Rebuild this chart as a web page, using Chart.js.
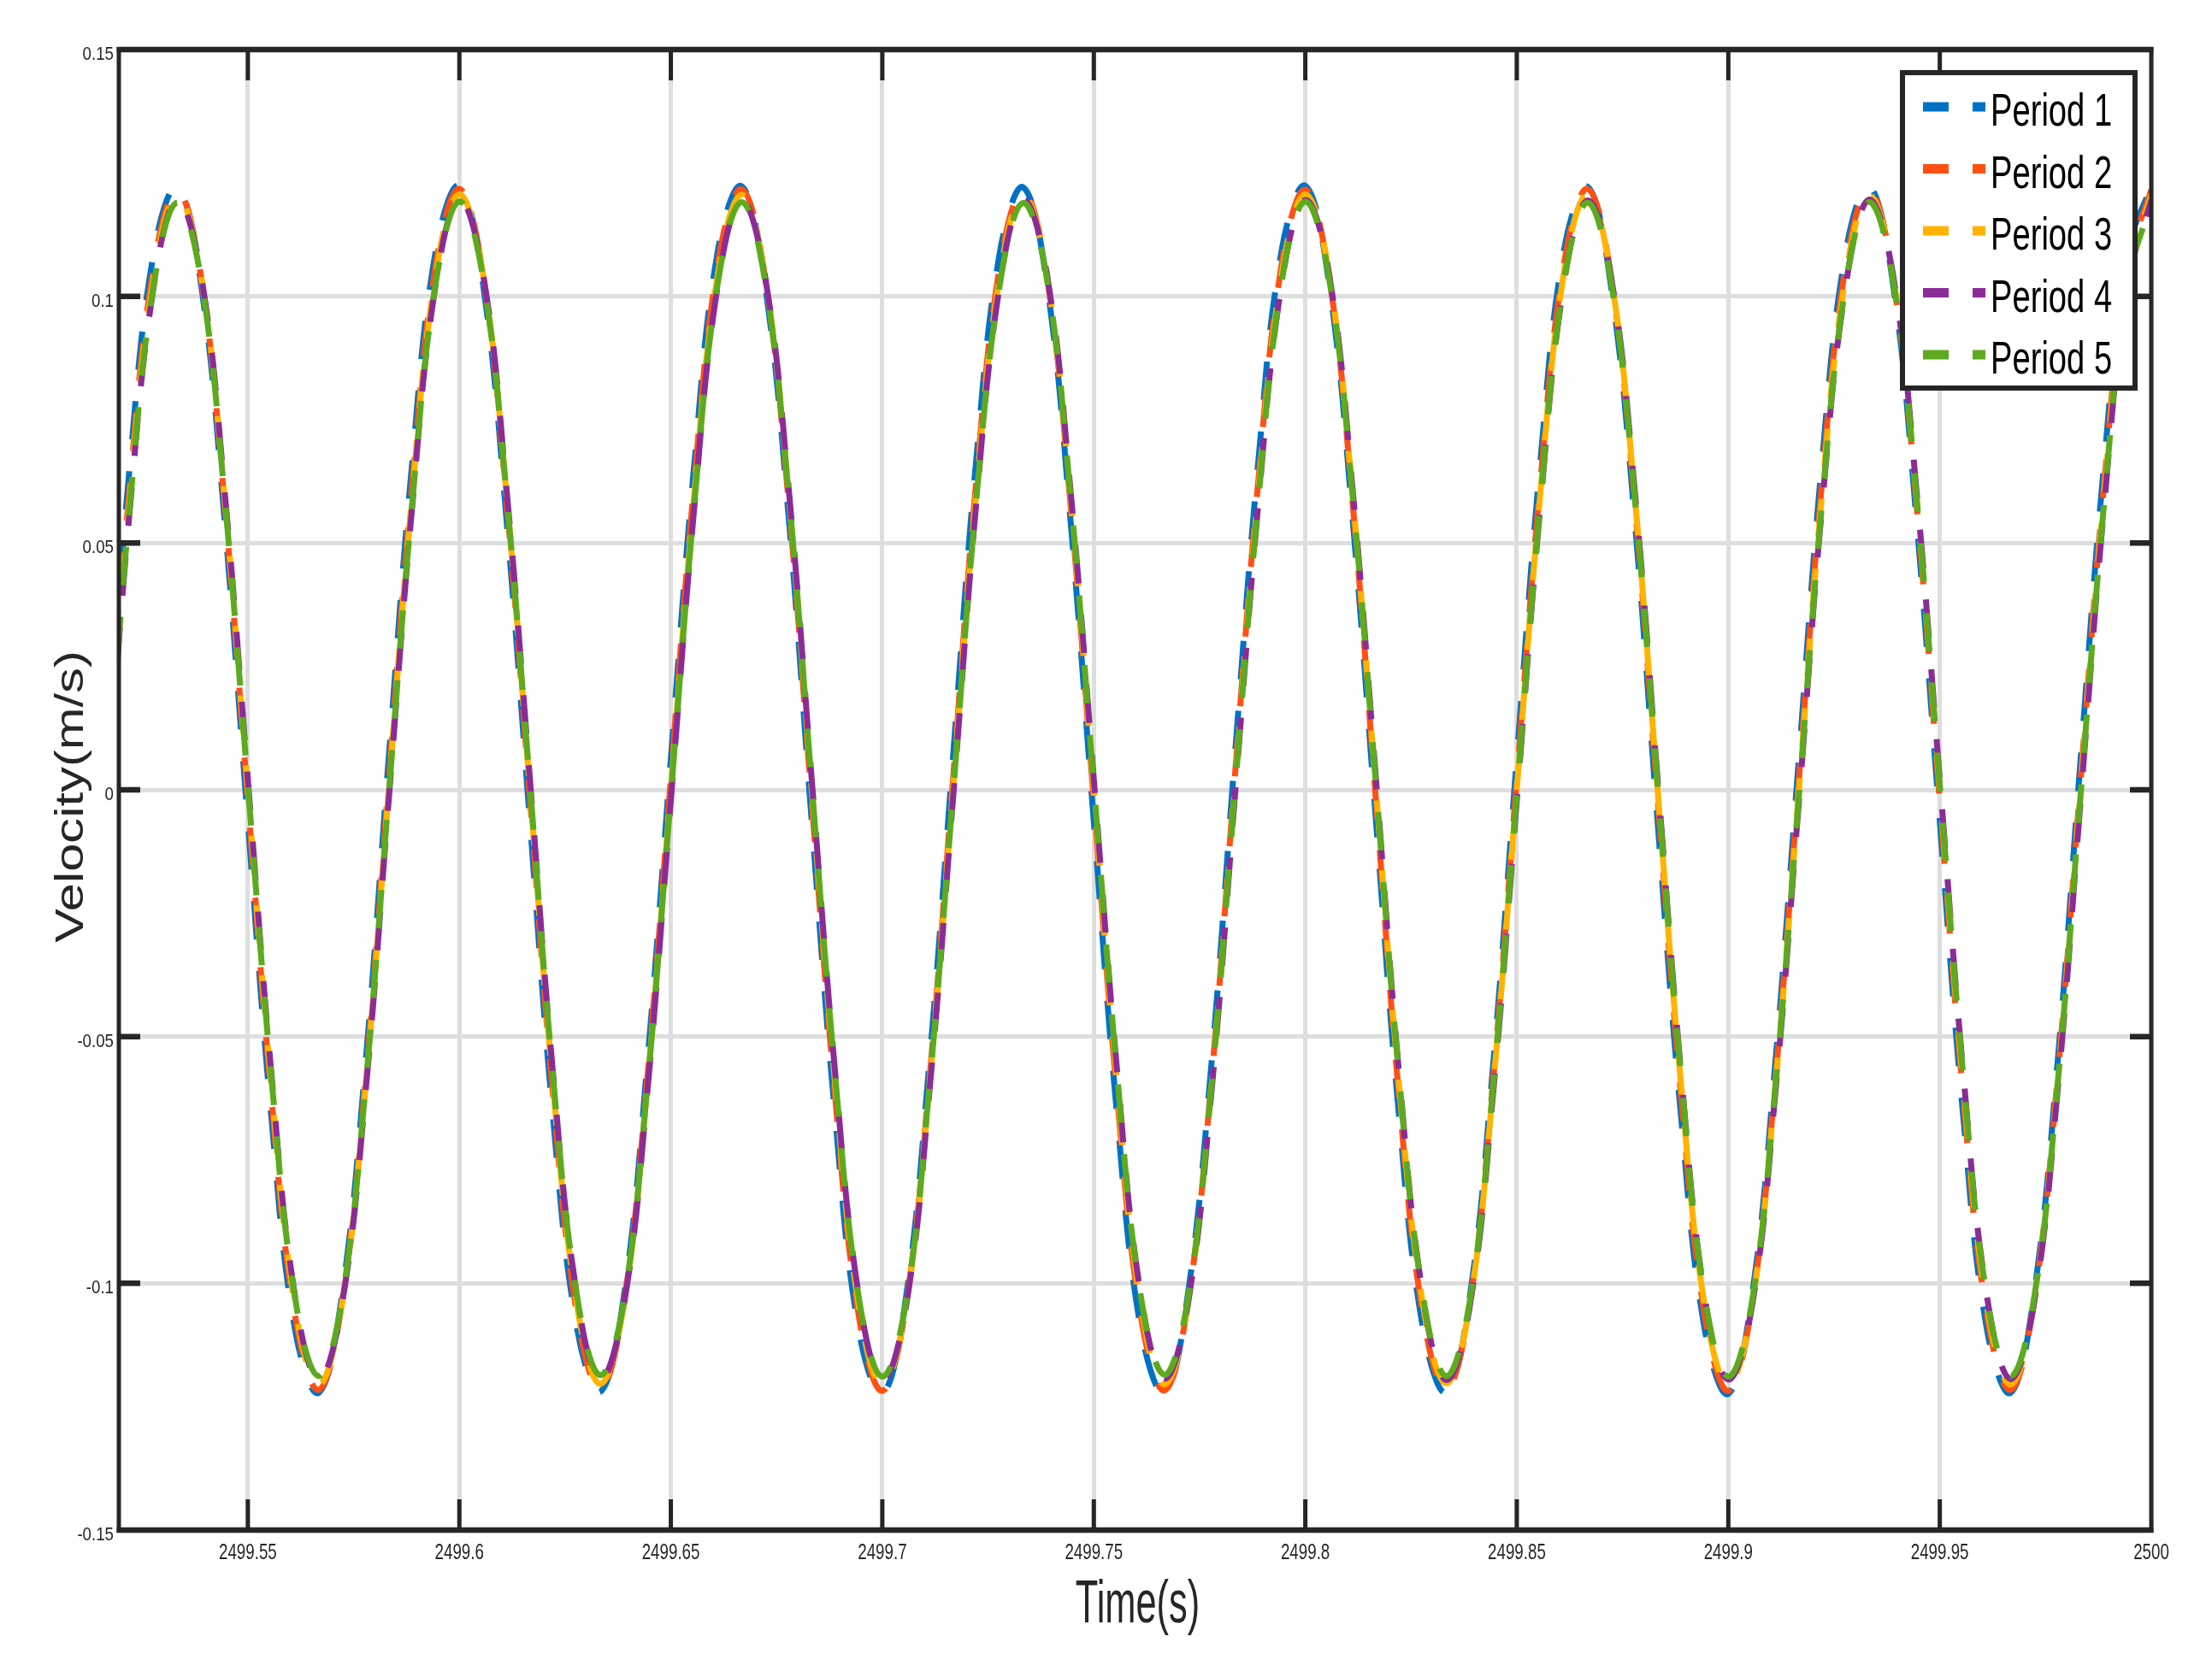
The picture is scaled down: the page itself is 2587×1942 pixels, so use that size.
<!DOCTYPE html>
<html lang="en">
<head>
<meta charset="utf-8">
<title>Velocity</title>
<script src="https://cdn.jsdelivr.net/npm/chart.js@4.4.1/dist/chart.umd.min.js"></script>
<style>
  html, body { margin: 0; padding: 0; background: #fff; }
  #caja { width: 2587px; height: 1942px; }
</style>
</head>
<body>
<div id="caja"><canvas id="grafico" width="2587" height="1942"></canvas></div>
<script>
// datos (tiempo en s, velocidad en m/s)
const tiempo = [
  2499.5167, 2499.5222, 2499.5278,
  2499.5333, 2499.5389, 2499.5444, 2499.55, 2499.5556, 2499.5611, 2499.5667, 2499.5722, 2499.5778, 2499.5833, 2499.5889, 2499.5944,
  2499.6, 2499.6056, 2499.6111, 2499.6167, 2499.6222, 2499.6278, 2499.6333, 2499.6389, 2499.6444, 2499.65, 2499.6556, 2499.6611,
  2499.6667, 2499.6722, 2499.6778, 2499.6833, 2499.6889, 2499.6944, 2499.7, 2499.7056, 2499.7111, 2499.7167, 2499.7222, 2499.7278,
  2499.7333, 2499.7389, 2499.7444, 2499.75, 2499.7556, 2499.7611, 2499.7667, 2499.7722, 2499.7778, 2499.7833, 2499.7889, 2499.7944,
  2499.8, 2499.8056, 2499.8111, 2499.8167, 2499.8222, 2499.8278, 2499.8333, 2499.8389, 2499.8444, 2499.85, 2499.8556, 2499.8611,
  2499.8667, 2499.8722, 2499.8778, 2499.8833, 2499.8889, 2499.8944, 2499.9, 2499.9056, 2499.9111, 2499.9167, 2499.9222, 2499.9278,
  2499.9333, 2499.9389, 2499.9444, 2499.95, 2499.9556, 2499.9611, 2499.9667, 2499.9722, 2499.9778, 2499.9833, 2499.9889, 2499.9944,
  2500
];

const periodo1 = [
  0.0064, 0.0667, 0.1091,
  0.1222, 0.1027, 0.0556, -0.0064, -0.0667, -0.1091, -0.1222, -0.1027, -0.0556, 0.0064, 0.0667, 0.1091,
  0.1224, 0.1025, 0.0553, -0.0066, -0.0668, -0.1090, -0.1220, -0.1026, -0.0557, 0.0062, 0.0665, 0.1092,
  0.1223, 0.1028, 0.0558, -0.0063, -0.0666, -0.1093, -0.1224, -0.1028, -0.0555, 0.0065, 0.0668, 0.1090,
  0.1221, 0.1026, 0.0555, -0.0065, -0.0669, -0.1092, -0.1223, -0.1025, -0.0556, 0.0063, 0.0666, 0.1093,
  0.1224, 0.1027, 0.0557, -0.0062, -0.0665, -0.1090, -0.1221, -0.1027, -0.0558, 0.0064, 0.0667, 0.1091,
  0.1222, 0.1025, 0.0554, -0.0066, -0.0668, -0.1092, -0.1224, -0.1026, -0.0555, 0.0065, 0.0669, 0.1092,
  0.1223, 0.1028, 0.0556, -0.0064, -0.0667, -0.1091, -0.1222, -0.1027, -0.0557, 0.0063, 0.0666, 0.1090,
  0.1224
];

const periodo2 = [
  0.0021, 0.0626, 0.1063,
  0.1215, 0.1041, 0.0589, -0.0021, -0.0626, -0.1063, -0.1216, -0.1041, -0.0589, 0.0021, 0.0626, 0.1063,
  0.1218, 0.1043, 0.0590, -0.0020, -0.0624, -0.1062, -0.1214, -0.1040, -0.0588, 0.0023, 0.0628, 0.1065,
  0.1217, 0.1042, 0.0588, -0.0022, -0.0627, -0.1064, -0.1218, -0.1043, -0.0590, 0.0020, 0.0625, 0.1062,
  0.1214, 0.1040, 0.0587, -0.0023, -0.0628, -0.1065, -0.1217, -0.1042, -0.0589, 0.0022, 0.0627, 0.1064,
  0.1216, 0.1041, 0.0590, -0.0021, -0.0625, -0.1063, -0.1215, -0.1041, -0.0588, 0.0021, 0.0626, 0.1063,
  0.1218, 0.1043, 0.0589, -0.0020, -0.0626, -0.1064, -0.1218, -0.1042, -0.0590, 0.0022, 0.0628, 0.1065,
  0.1215, 0.1040, 0.0588, -0.0022, -0.0627, -0.1062, -0.1216, -0.1040, -0.0587, 0.0020, 0.0625, 0.1062,
  0.1216
];

const periodo3 = [
  0.0000, 0.0603, 0.1044,
  0.1205, 0.1044, 0.0603, 0.0000, -0.0603, -0.1044, -0.1206, -0.1044, -0.0603, 0.0000, 0.0603, 0.1044,
  0.1207, 0.1045, 0.0602, -0.0001, -0.0604, -0.1043, -0.1204, -0.1043, -0.0602, 0.0001, 0.0604, 0.1045,
  0.1206, 0.1043, 0.0604, 0.0001, -0.0602, -0.1045, -0.1207, -0.1045, -0.0604, -0.0001, 0.0602, 0.1043,
  0.1204, 0.1044, 0.0603, 0.0000, -0.0603, -0.1044, -0.1205, -0.1044, -0.0603, 0.0000, 0.0603, 0.1044,
  0.1207, 0.1046, 0.0604, 0.0001, -0.0602, -0.1043, -0.1203, -0.1042, -0.0601, 0.0002, 0.0605, 0.1046,
  0.1206, 0.1044, 0.0602, -0.0001, -0.0604, -0.1045, -0.1206, -0.1044, -0.0603, 0.0000, 0.0603, 0.1044,
  0.1205, 0.1043, 0.0603, 0.0000, -0.0603, -0.1044, -0.1205, -0.1043, -0.0602, 0.0001, 0.0604, 0.1045,
  0.1206
];

const periodo4 = [
  -0.0021, 0.0579, 0.1024,
  0.1195, 0.1045, 0.0615, 0.0021, -0.0579, -0.1024, -0.1195, -0.1045, -0.0615, -0.0021, 0.0579, 0.1024,
  0.1196, 0.1046, 0.0614, 0.0020, -0.0580, -0.1025, -0.1194, -0.1044, -0.0616, -0.0022, 0.0578, 0.1023,
  0.1194, 0.1044, 0.0616, 0.0022, -0.0578, -0.1023, -0.1196, -0.1046, -0.0614, -0.0020, 0.0580, 0.1025,
  0.1196, 0.1045, 0.0615, 0.0021, -0.0579, -0.1024, -0.1193, -0.1043, -0.0613, -0.0019, 0.0581, 0.1026,
  0.1195, 0.1046, 0.0616, 0.0022, -0.0578, -0.1025, -0.1196, -0.1045, -0.0615, -0.0021, 0.0579, 0.1024,
  0.1194, 0.1044, 0.0614, 0.0020, -0.0580, -0.1026, -0.1195, -0.1046, -0.0616, -0.0022, 0.0578, 0.1023,
  0.1196, 0.1045, 0.0615, 0.0021, -0.0579, -0.1024, -0.1194, -0.1044, -0.0614, -0.0020, 0.0580, 0.1025,
  0.1195
];

const periodo5 = [
  -0.0010, 0.0585, 0.1026,
  0.1190, 0.1036, 0.0603, 0.0010, -0.0585, -0.1026, -0.1188, -0.1036, -0.0603, -0.0010, 0.0585, 0.1026,
  0.1192, 0.1037, 0.0602, 0.0009, -0.0586, -0.1025, -0.1186, -0.1035, -0.0604, -0.0011, 0.0584, 0.1027,
  0.1191, 0.1035, 0.0604, 0.0011, -0.0584, -0.1027, -0.1189, -0.1037, -0.0602, -0.0009, 0.0586, 0.1025,
  0.1189, 0.1036, 0.0603, 0.0010, -0.0585, -0.1026, -0.1185, -0.1034, -0.0601, -0.0008, 0.0587, 0.1028,
  0.1192, 0.1037, 0.0604, 0.0011, -0.0584, -0.1025, -0.1188, -0.1036, -0.0603, -0.0010, 0.0585, 0.1026,
  0.1190, 0.1035, 0.0602, 0.0009, -0.0586, -0.1027, -0.1189, -0.1037, -0.0604, -0.0011, 0.0584, 0.1025,
  0.1191, 0.1036, 0.0603, 0.0010, -0.0585, -0.1026, -0.1188, -0.1035, -0.0602, -0.0009, 0.0586, 0.1027,
  0.1190
];

const nombres = ['Period 1', 'Period 2', 'Period 3', 'Period 4', 'Period 5'];
const colores = ['#0072C6', '#FF5014', '#FFB300', '#8B2C96', '#5DAA1F'];
const series = [periodo1, periodo2, periodo3, periodo4, periodo5];
const desfases = [36, 24, 14, 6, 0];   // corrimiento del trazo discontinuo

const ticksX = [2499.55, 2499.6, 2499.65, 2499.7, 2499.75, 2499.8, 2499.85, 2499.9, 2499.95, 2500];
const ticksY = [-0.15, -0.1, -0.05, 0, 0.05, 0.1, 0.15];
const tituloX = 'Time(s)';
const tituloY = 'Velocity(m/s)';

const tinta = '#262626';
const fuente = '"Liberation Sans", Arial, sans-serif';

// texto estirado como en la figura original
function textoEscalado(ctx, txt, x, y, size, sx, sy, align, rot) {
    ctx.save();
    ctx.translate(x, y);
    if (rot) ctx.rotate(rot);
    ctx.scale(sx, sy);
    ctx.font = size + 'px ' + fuente;
    ctx.textAlign = align;
    ctx.textBaseline = 'alphabetic';
    ctx.fillText(txt, 0, 0);
    ctx.restore();
}

// marco negro con las marcas hacia adentro (estilo matlab)
const marco = {
    id: 'marco',
    afterDatasetsDraw(chart) {
        const { ctx, chartArea: a, scales } = chart;
        ctx.save();
        ctx.strokeStyle = tinta;
        ctx.lineCap = 'butt';

        ctx.lineWidth = 5;
        ctx.beginPath();
        scales.x.ticks.forEach(t => {
            const px = scales.x.getPixelForValue(t.value);
            ctx.moveTo(px, a.bottom);
            ctx.lineTo(px, a.bottom - 36);
            ctx.moveTo(px, a.top);
            ctx.lineTo(px, a.top + 36);
        });
        ctx.moveTo(a.left, a.top - 3);
        ctx.lineTo(a.left, a.bottom + 3);
        ctx.moveTo(a.right, a.top - 3);
        ctx.lineTo(a.right, a.bottom + 3);
        ctx.stroke();

        ctx.lineWidth = 6.5;
        ctx.beginPath();
        scales.y.ticks.forEach(t => {
            const py = scales.y.getPixelForValue(t.value);
            ctx.moveTo(a.left, py);
            ctx.lineTo(a.left + 25, py);
            ctx.moveTo(a.right, py);
            ctx.lineTo(a.right - 25, py);
        });
        ctx.moveTo(a.left - 2.5, a.top);
        ctx.lineTo(a.right + 2.5, a.top);
        ctx.moveTo(a.left - 2.5, a.bottom);
        ctx.lineTo(a.right + 2.5, a.bottom);
        ctx.stroke();
        ctx.restore();
    }
};

// etiquetas de los ejes y titulos
const textos = {
    id: 'textos',
    afterDraw(chart) {
        const { ctx, chartArea: a, scales } = chart;
        ctx.save();
        ctx.fillStyle = tinta;
        ticksX.forEach(v => {
            textoEscalado(ctx, String(v), scales.x.getPixelForValue(v), a.bottom + 34, 25, 0.75, 1, 'center');
        });
        ticksY.forEach(v => {
            textoEscalado(ctx, String(v), a.left - 6, scales.y.getPixelForValue(v) + 12, 22, 0.85, 1, 'right');
        });
        textoEscalado(ctx, tituloX, (a.left + a.right) / 2 + 3, a.bottom + 108, 70, 0.62, 1, 'center');
        textoEscalado(ctx, tituloY, 97, (a.top + a.bottom) / 2 + 8, 47, 1.27, 1, 'center', -Math.PI / 2);
        ctx.restore();
    }
};

// leyenda dentro del area, arriba a la derecha
const leyenda = {
    id: 'leyenda',
    afterDraw(chart) {
        const { ctx, chartArea } = chart;
        const x0 = chartArea.right - 294;
        const y0 = chartArea.top + 24;
        ctx.save();
        ctx.fillStyle = '#fff';
        ctx.fillRect(x0, y0, 278, 375);
        ctx.strokeStyle = tinta;
        ctx.lineWidth = 6;
        ctx.strokeRect(x0 + 3, y0 + 3, 272, 369);
        chart.data.datasets.forEach((ds, i) => {
            const y = y0 + 43 + i * 72.5;
            ctx.strokeStyle = ds.borderColor;
            ctx.lineWidth = 11;
            ctx.lineCap = 'butt';
            ctx.beginPath();
            ctx.moveTo(x0 + 27, y);
            ctx.lineTo(x0 + 57, y);
            ctx.moveTo(x0 + 85, y);
            ctx.lineTo(x0 + 100, y);
            ctx.stroke();
            ctx.fillStyle = '#000';
            textoEscalado(ctx, ds.label, x0 + 106, y + 22, 53, 0.72, 1, 'left');
        });
        ctx.restore();
    }
};

const grafico = document.getElementById('grafico');

new Chart(grafico, {
    type: 'line',
    data: {
        datasets: series.map((valores, i) => ({
            label: nombres[i],
            data: tiempo.map((t, j) => ({ x: t, y: valores[j] })),
            borderColor: colores[i],
            backgroundColor: colores[i],
            borderWidth: 7,
            borderDash: [45, 37],
            borderDashOffset: desfases[i],
            borderCapStyle: 'butt',
            pointRadius: 0,
            tension: 0.4,
            fill: false,
            order: 4 - i
        }))
    },
    options: {
        responsive: false,
        devicePixelRatio: 1,
        animation: false,
        layout: { padding: { top: 58, right: 71, left: 0, bottom: 0 } },
        plugins: {
            legend: { display: false },
            tooltip: { enabled: false }
        },
        scales: {
            x: {
                type: 'linear',
                min: 2499.5195,
                max: 2500,
                afterBuildTicks: s => { s.ticks = ticksX.map(v => ({ value: v })); },
                afterFit: s => { s.height = 152; },
                ticks: { display: false },
                grid: { color: '#dedede', lineWidth: 5, drawTicks: false },
                border: { display: false }
            },
            y: {
                min: -0.15,
                max: 0.15,
                afterBuildTicks: s => { s.ticks = ticksY.map(v => ({ value: v })); },
                afterFit: s => { s.width = 139; },
                ticks: { display: false },
                grid: { color: '#dedede', lineWidth: 5, drawTicks: false },
                border: { display: false }
            }
        }
    },
    plugins: [marco, textos, leyenda]
});
</script>
</body>
</html>
